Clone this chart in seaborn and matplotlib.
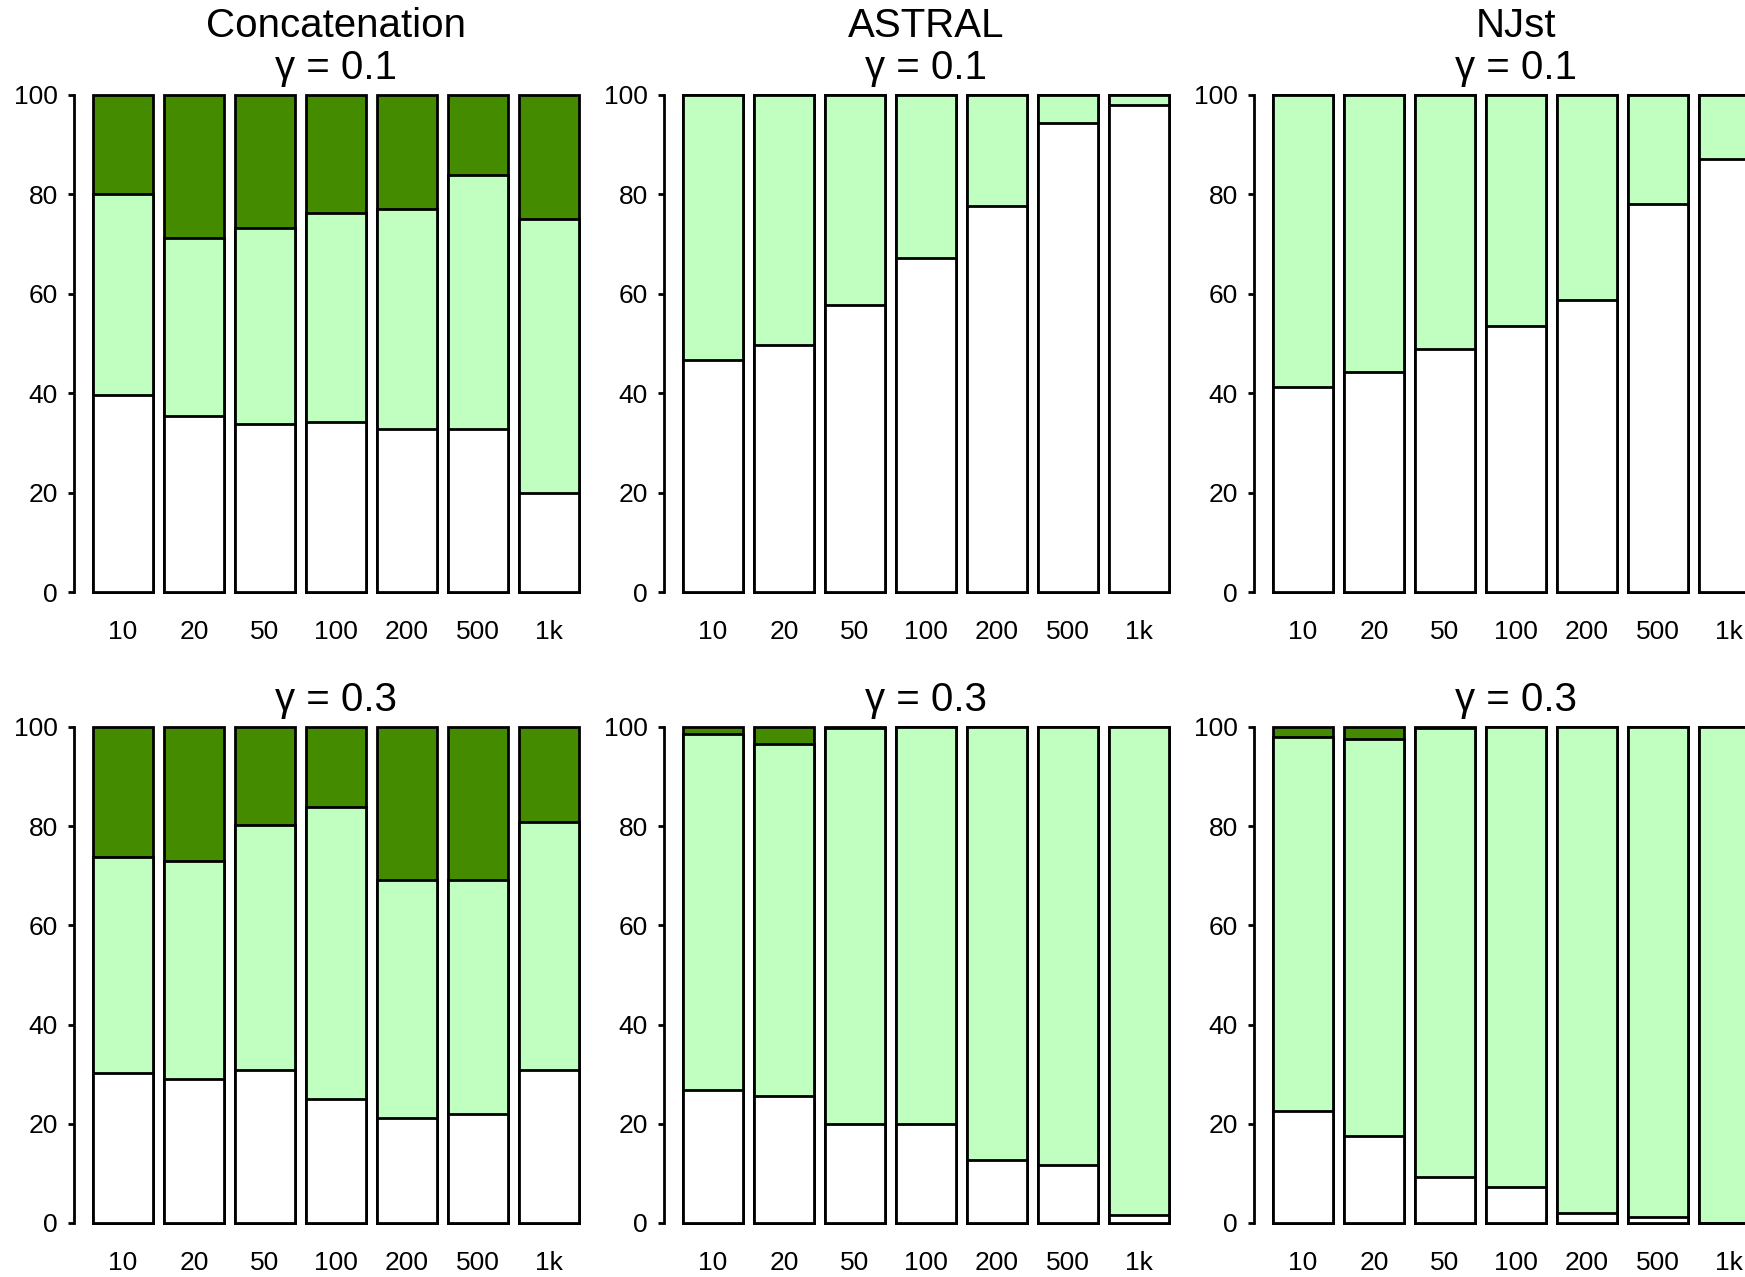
import numpy as np
import matplotlib
matplotlib.use("Agg")
import matplotlib.pyplot as plt
import seaborn as sns

sns.set_style("white")
plt.rcParams['font.family'] = ['Liberation Sans', 'DejaVu Sans']
plt.rcParams['text.color'] = 'black'

# numero de genes (eje x)
sizes = ["10", "20", "50", "100", "200", "500", "1k"]

# segmento blanco (abajo) y verde claro (medio); el verde oscuro completa hasta 100
concat_01_white = [39.7, 35.4, 33.9, 34.3, 32.7, 32.7, 20.0]
concat_01_light = [40.3, 35.9, 39.4, 41.9, 44.4, 51.2, 55.0]
astral_01_white = [46.6, 49.6, 57.8, 67.3, 77.6, 94.4, 98.0]
astral_01_light = [53.4, 50.4, 42.2, 32.7, 22.4, 5.6, 2.0]
njst_01_white = [41.3, 44.2, 48.9, 53.6, 58.7, 78.0, 87.2]
njst_01_light = [58.7, 55.8, 51.1, 46.4, 41.3, 22.0, 12.8]

concat_03_white = [30.3, 29.1, 30.9, 24.9, 21.1, 22.0, 30.9]
concat_03_light = [43.5, 43.8, 49.4, 59.0, 48.0, 47.1, 50.0]
astral_03_white = [26.9, 25.6, 20.0, 20.0, 12.8, 11.7, 1.6]
astral_03_light = [71.6, 70.9, 79.8, 80.0, 87.2, 88.3, 98.4]
njst_03_white = [22.6, 17.5, 9.2, 7.2, 2.0, 1.3, 0.0]
njst_03_light = [75.4, 80.0, 90.6, 92.8, 98.0, 98.7, 100.0]

methods = ["Concatenation", "ASTRAL", "NJst"]
gammas = ["γ = 0.1", "γ = 0.3"]
panels = [
    [(concat_01_white, concat_01_light), (astral_01_white, astral_01_light), (njst_01_white, njst_01_light)],
    [(concat_03_white, concat_03_light), (astral_03_white, astral_03_light), (njst_03_white, njst_03_light)],
]

DARK = "#458B00"
LIGHT = "#C1FFC1"

W, H = 1745, 1277
fig = plt.figure(figsize=(W / 100, H / 100), dpi=100)

col_left = [74, 664, 1254]
row_y0 = [592, 1223]     # pixel de y=0
row_y100 = [95, 727]     # pixel de y=100
ax_w = 524

for r in range(2):
    ppu = (row_y0[r] - row_y100[r]) / 100.0
    bot = row_y0[r] + 4 * ppu
    top = row_y100[r] - 4 * ppu
    for c in range(3):
        white, light = panels[r][c]
        white = np.array(white)
        light_top = white + np.array(light)
        ax = fig.add_axes([col_left[c] / W, 1 - bot / H, ax_w / W, (bot - top) / H])
        kw = dict(width=0.8333, edgecolor="black", linewidth=2.0, saturation=1,
                  errorbar=None, ax=ax)
        sns.barplot(x=sizes, y=[100] * len(sizes), color=DARK, **kw)
        sns.barplot(x=sizes, y=light_top, color=LIGHT, **kw)
        sns.barplot(x=sizes, y=white, color="white", **kw)

        ax.set_xlim(-0.69, 6.69)
        ax.set_ylim(-4, 104)
        ax.set_yticks([0, 20, 40, 60, 80, 100])
        ax.set_xlabel("")
        ax.set_ylabel("")
        for s in ["top", "right", "bottom"]:
            ax.spines[s].set_visible(False)
        ax.spines["left"].set_bounds(0, 100)
        ax.spines["left"].set_linewidth(2.0)
        ax.spines["left"].set_color("black")
        ax.tick_params(axis="y", direction="out", length=4.5, width=2.0,
                       pad=7, labelsize=19, colors="black", left=True)
        ax.tick_params(axis="x", length=0, pad=6, labelsize=19, colors="black")
        ax.grid(False)

        xc = (col_left[c] + ax_w / 2) / W
        if r == 0:
            fig.text(xc, 1 - 26 / H, methods[c], ha="center", va="center", fontsize=29)
        fig.text(xc, 1 - (row_y100[r] - 27) / H, gammas[r], ha="center", va="center",
                 fontsize=29)

fig.savefig("out.png", dpi=100)
